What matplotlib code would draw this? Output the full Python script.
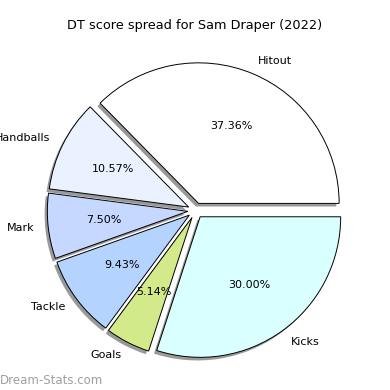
import matplotlib
matplotlib.use("Agg")
import matplotlib.pyplot as plt

categories = ["Hitout", "Handballs", "Mark", "Tackle", "Goals", "Kicks"]
values = [37.36, 10.57, 7.50, 9.43, 5.14, 30.00]
colors = ["#ffffff", "#eaf1ff", "#c6d8ff", "#b4d4ff", "#d2ea8a", "#d9ffff"]
explode = [0.055] * len(values)

fig = plt.figure(figsize=(3.9, 3.9), dpi=100)
ax = fig.add_axes([0.051, 0.0097, 0.901, 0.901])
ax.pie(values, labels=categories, colors=colors, explode=explode,
       autopct="%1.2f%%", startangle=0,
       shadow={"ox": -0.014, "oy": -0.016, "facecolor": "#555555",
               "edgecolor": "none", "alpha": 0.6},
       wedgeprops=dict(edgecolor="black", linewidth=0.7),
       textprops=dict(fontsize=8))
ax.set_xlim(-1.25, 1.25)
ax.set_ylim(-1.25, 1.25)
ax.set_aspect("equal")
fig.text(0.5, 0.935, "DT score spread for Sam Draper (2022)", ha="center", va="center", fontsize=9.3)
fig.text(0.0, 0.025, "Dream-Stats.com", ha="left", va="center", fontsize=8.5, color="#a0a0a0")
fig.savefig("out.png", dpi=100)
